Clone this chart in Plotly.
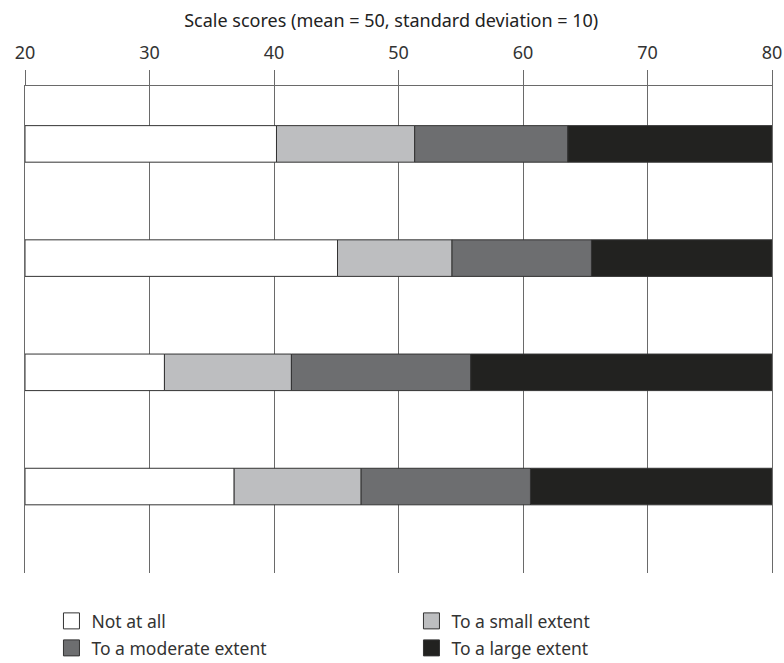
import plotly.graph_objects as go

# Data: cumulative boundaries of each segment (scale scores), 4 bars top to bottom
rows = [0, 1, 2, 3]
start = [20, 20, 20, 20]
not_at_all_end = [40.2, 45.1, 31.2, 36.8]
small_end = [51.3, 54.3, 41.4, 47.0]
moderate_end = [63.6, 65.5, 55.8, 60.6]
large_end = [80, 80, 80, 80]

series_names = ["Not at all", "To a small extent", "To a moderate extent", "To a large extent"]
series_colors = ["#ffffff", "#bdbec0", "#6d6e70", "#222220"]
series_legends = ["legend", "legend", "legend2", "legend2"]
lows = [start, not_at_all_end, small_end, moderate_end]
highs = [not_at_all_end, small_end, moderate_end, large_end]
tick_vals = [20, 30, 40, 50, 60, 70, 80]

edge_col = "#333333"
fig = go.Figure()
for name, color, lo, hi in zip(series_names, series_colors, lows, highs):
    fig.add_trace(go.Bar(
        y=rows,
        x=[h - l for h, l in zip(hi, lo)],
        base=lo,
        orientation="h",
        name=name,
        showlegend=False,
        width=0.32,
        marker=dict(color=color, line=dict(color=edge_col, width=1)),
        hoverinfo="skip",
    ))
# legend-only entries (larger square swatches)
for name, color, lg in zip(series_names, series_colors, series_legends):
    fig.add_trace(go.Scatter(
        x=[None], y=[None], mode="markers", name=name, legend=lg,
        marker=dict(symbol="square", size=16, color=color,
                    line=dict(color=edge_col, width=1)),
        hoverinfo="skip",
    ))

grid_col = "#6a6a6a"
plot_top, plot_bottom = 86, 573
plot_h = plot_bottom - plot_top
legend_common = dict(
    orientation="h",
    x=(51.5 - 25) / 748, xanchor="left",
    yanchor="middle",
    entrywidth=315, entrywidthmode="pixels",
    traceorder="normal",
    itemsizing="trace",
    font=dict(size=17.5, color="#333333"),
    bgcolor="rgba(0,0,0,0)",
)
fig.update_layout(
    width=784, height=663,
    barmode="overlay",
    plot_bgcolor="white", paper_bgcolor="white",
    margin=dict(l=25, r=11.5, t=plot_top, b=663 - plot_bottom, autoexpand=False),
    font=dict(family="Noto Sans, Open Sans, sans-serif", size=17, color="#333333"),
    showlegend=True,
    title=dict(text="Scale scores (mean = 50, standard deviation = 10)",
               font=dict(size=18, color="#222222"),
               x=0.499, xref="container", xanchor="center",
               y=1 - 21 / 663, yref="container", yanchor="middle"),
    legend=dict(legend_common, y=-(621 - plot_bottom) / plot_h),
    legend2=dict(legend_common, y=-(648 - plot_bottom) / plot_h),
    xaxis=dict(
        side="top",
        range=[20, 80],
        tickvals=tick_vals,
        automargin=False,
        showgrid=True, gridcolor=grid_col, gridwidth=1,
        showline=True, linecolor=grid_col, linewidth=1,
        ticks="outside", ticklen=15, tickcolor=grid_col, tickwidth=1,
        ticklabelstandoff=4,
        tickfont=dict(size=18, color="#333333"),
        zeroline=False,
        fixedrange=True,
    ),
    yaxis=dict(
        range=[3.757, -0.507],
        automargin=False,
        showticklabels=False,
        showgrid=False,
        zeroline=False,
        showline=True, mirror=True, linecolor=grid_col, linewidth=1,
        ticks="",
        fixedrange=True,
    ),
)

fig.write_html("out.html", config={"displayModeBar": False},
               post_script="document.body.style.margin='0';")
